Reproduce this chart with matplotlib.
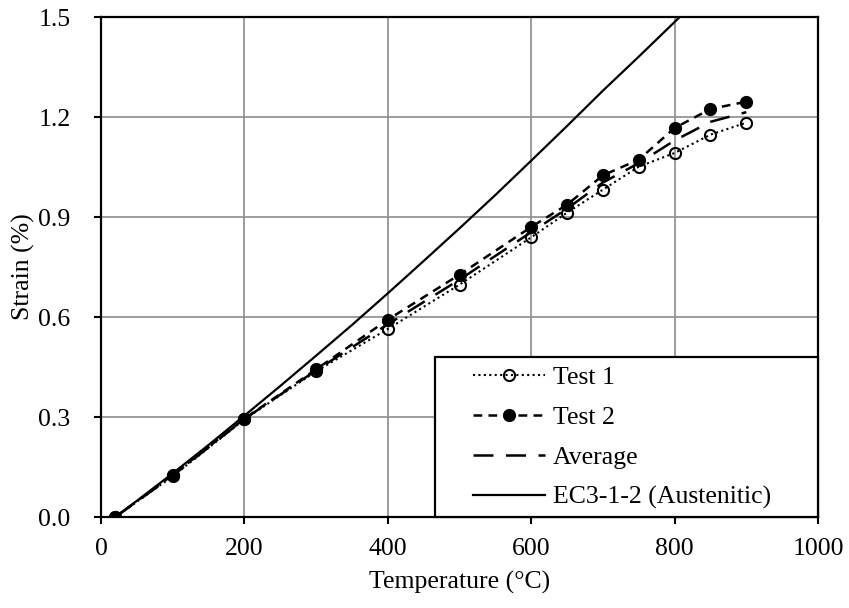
import matplotlib
matplotlib.use("Agg")
import matplotlib.pyplot as plt
from matplotlib.patches import Rectangle
from matplotlib.ticker import FormatStrFormatter

# ---- data ----
temp = [20, 100, 200, 300, 400, 500, 600, 650, 700, 750, 800, 850, 900]
test1 = [0.0, 0.122, 0.293, 0.437, 0.564, 0.697, 0.839, 0.913, 0.982, 1.051, 1.092, 1.147, 1.183]
test2 = [0.0, 0.126, 0.295, 0.443, 0.592, 0.727, 0.870, 0.937, 1.025, 1.072, 1.167, 1.224, 1.246]
average = [(a + b) / 2 for a, b in zip(test1, test2)]

ec3_temp = [20, 50, 100, 150, 200, 250, 300, 350, 400, 450, 500, 550, 600, 650, 700, 750, 800, 850]
ec3_strain = [0.0, 0.0485, 0.131, 0.216, 0.304, 0.393, 0.484, 0.576, 0.671, 0.768, 0.866, 0.966, 1.069,
              1.173, 1.279, 1.381, 1.485, 1.590]

xticks = [0, 200, 400, 600, 800, 1000]
yticks = [0.0, 0.3, 0.6, 0.9, 1.2, 1.5]

plt.rcParams['font.family'] = ['Liberation Serif', 'DejaVu Serif']
FS = 18.5

fig = plt.figure(figsize=(8.49, 6.08), dpi=100)
ax = fig.add_axes([101 / 849, 1 - 517 / 608, 717 / 849, 500 / 608])

ax.plot(temp, test1, linestyle=(0, (1, 1.6)), color='black', lw=1.5, marker='o', markersize=8,
        markerfacecolor='none', markeredgecolor='black', markeredgewidth=1.5, label='Test 1', zorder=4)
ax.plot(temp, test2, linestyle=(0, (3.5, 2.5)), color='black', lw=1.8, marker='o', markersize=8.5,
        markerfacecolor='black', markeredgecolor='black', label='Test 2', zorder=4)
ax.plot(temp, average, linestyle=(0, (8, 5)), color='black', lw=1.8, label='Average', zorder=3)
ax.plot(ec3_temp, ec3_strain, linestyle='-', color='black', lw=1.6, label='EC3-1-2 (Austenitic)',
        zorder=3)

ax.set_xlim(0, 1000)
ax.set_ylim(0, 1.5)
ax.set_xticks(xticks)
ax.set_yticks(yticks)
ax.yaxis.set_major_formatter(FormatStrFormatter('%.1f'))
ax.grid(True, color='#8c8c8c', lw=1.2)
ax.set_axisbelow(True)
for s in ax.spines.values():
    s.set_linewidth(1.6)
    s.set_color('black')
    s.set_zorder(5)
ax.tick_params(axis='both', direction='out', length=5, width=1.5, labelsize=FS, colors='black')
ax.tick_params(axis='y', pad=17)
ax.tick_params(axis='x', pad=10)

ax.set_xlabel('Temperature (°C)', fontsize=FS, labelpad=8)
ax.set_ylabel('Strain (%)', fontsize=FS, labelpad=2)

# legend frame
x0 = (435 - 101) / 717
y1 = (517 - 357) / 500
ax.add_patch(Rectangle((x0, 0), 1 - x0, y1, transform=ax.transAxes, facecolor='white',
                       edgecolor='black', lw=1.6, zorder=6, clip_on=False))
leg = ax.legend(loc='upper left', bbox_to_anchor=((473 - 101) / 717, (517 - 366) / 500),
                frameon=False, fontsize=FS, handlelength=2.8, handletextpad=0.3,
                labelspacing=0.66, borderpad=0, borderaxespad=0)
leg.set_zorder(7)

fig.savefig('out.png', dpi=100)
